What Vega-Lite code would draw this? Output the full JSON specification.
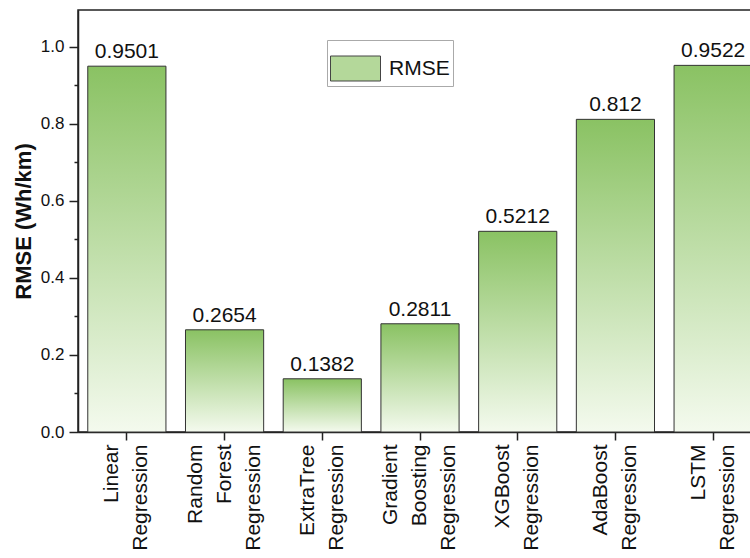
{
  "$schema": "https://vega.github.io/schema/vega-lite/v6.json",
  "width": 684,
  "height": 422,
  "autosize": "none",
  "padding": {"left": 78, "top": 10, "right": 0, "bottom": 126},
  "background": "white",
  "config": {
    "font": "Liberation Sans",
    "view": {"stroke": "#222", "strokeWidth": 1.5}
  },
  "data": {
    "values": [
      {"model": "Linear Regression", "rmse": 0.9501, "series": "RMSE"},
      {"model": "Random Forest Regression", "rmse": 0.2654, "series": "RMSE"},
      {"model": "ExtraTree Regression", "rmse": 0.1382, "series": "RMSE"},
      {"model": "Gradient Boosting Regression", "rmse": 0.2811, "series": "RMSE"},
      {"model": "XGBoost Regression", "rmse": 0.5212, "series": "RMSE"},
      {"model": "AdaBoost Regression", "rmse": 0.812, "series": "RMSE"},
      {"model": "LSTM Regression", "rmse": 0.9522, "series": "RMSE"}
    ]
  },
  "encoding": {
    "x": {
      "field": "model",
      "type": "nominal",
      "sort": null,
      "scale": {"paddingInner": 0.2, "paddingOuter": 0.1},
      "axis": {
        "title": null,
        "labelExpr": "split(datum.value, ' ')",
        "labelAngle": -90,
        "labelAlign": "right",
        "labelBaseline": "middle",
        "labelFontSize": 21,
        "labelLineHeight": 29,
        "labelColor": "#111",
        "labelPadding": 4,
        "labelLimit": 0,
        "labelOffset": {"condition": {"test": "length(split(datum.value, ' ')) == 3", "value": -29}, "value": -14.5},
        "tickSize": 8,
        "tickColor": "#222",
        "tickWidth": 1.5,
        "domainColor": "#222",
        "domainWidth": 1.5
      }
    },
    "y": {
      "field": "rmse",
      "type": "quantitative",
      "scale": {"domain": [0, 1.096], "nice": false},
      "axis": {
        "title": "RMSE (Wh/km)",
        "titleFontSize": 22,
        "titleFontWeight": "bold",
        "titleColor": "#111",
        "titlePadding": 5,
        "grid": false,
        "values": [0, 0.1, 0.2, 0.3, 0.4, 0.5, 0.6, 0.7, 0.8, 0.9, 1.0],
        "labelExpr": "round(datum.value * 10) % 2 == 0 ? format(datum.value, '.1f') : ''",
        "labelFontSize": 17,
        "labelColor": "#111",
        "labelPadding": 5,
        "tickSize": {"expr": "round(datum.value * 10) % 2 == 0 ? 9 : 4"},
        "tickColor": "#222",
        "tickWidth": 1.5,
        "domainColor": "#222",
        "domainWidth": 1.5
      }
    }
  },
  "layer": [
    {
      "mark": {
        "type": "bar",
        "fill": {
          "gradient": "linear",
          "x1": 0, "y1": 0, "x2": 0, "y2": 1,
          "stops": [
            {"offset": 0, "color": "#8ac263"},
            {"offset": 1, "color": "#f4faee"}
          ]
        },
        "stroke": "#333",
        "strokeWidth": 1
      }
    },
    {
      "mark": {"type": "square", "opacity": 0, "size": 1},
      "encoding": {
        "color": {
          "field": "series",
          "type": "nominal",
          "scale": {"range": ["#b4d89a"]},
          "legend": {
            "title": null,
            "orient": "none",
            "legendX": 249,
            "legendY": 30,
            "fillColor": "white",
            "strokeColor": "#aaa",
            "padding": 3,
            "symbolType": "M-1,-0.5H1V0.5H-1Z",
            "symbolSize": 2500,
            "symbolOpacity": 1,
            "symbolStrokeColor": "#444",
            "symbolStrokeWidth": 1,
            "labelFontSize": 21,
            "labelColor": "#111",
            "labelOffset": 8,
            "encode": {
              "symbols": {
                "update": {
                  "opacity": {"value": 1},
                  "stroke": {"value": "#444"}
                }
              }
            }
          }
        }
      }
    },
    {
      "mark": {"type": "text", "baseline": "bottom", "dy": -4, "fontSize": 21, "color": "#111"},
      "encoding": {"text": {"field": "rmse", "type": "nominal"}}
    }
  ]
}
